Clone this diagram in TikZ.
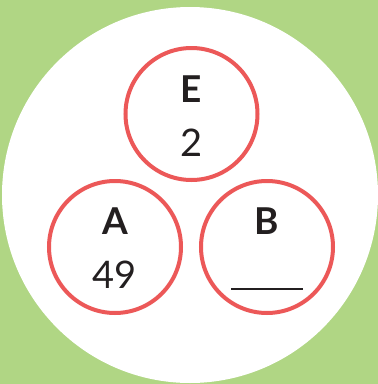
\documentclass[tikz,border=0pt]{standalone}
\usepackage{fontspec}
\setsansfont{Lato}
\usetikzlibrary{positioning}
\definecolor{leaf}{RGB}{176,214,132}
\definecolor{ring}{RGB}{236,88,88}
\definecolor{ink}{RGB}{35,31,32}

\begin{document}
\begin{tikzpicture}[x=1pt, y=-1pt,
  setring/.style={circle, draw=ring, line width=4pt, minimum size=132pt, inner sep=0pt},
  letter/.style={inner sep=0pt, text=ink, font=\fontsize{37}{40}\selectfont\sffamily\bfseries},
  count/.style={inner sep=0pt, text=ink, font=\fontsize{38}{42}\selectfont\sffamily}
]
  \useasboundingbox (0,0) rectangle (378,384);
  \fill[leaf] (0,0) rectangle (378,384);
  \fill[white] (190,195) circle (188);

  \node[setring] (e) at (191.5,114) {};
  \node[setring] (a) at (115,247) {};
  \node[setring] (b) at (267,247) {};

  \node[letter] (eL) at ([yshift=24.5pt]e.center) {E};
  \node[count] (eN) at ([yshift=-29pt]e.center) {2};
  \node[letter] (aL) at ([yshift=25.5pt]a.center) {A};
  \node[count] (aN) at ([yshift=-28pt]a.center) {49};
  \node[letter] (bL) at ([yshift=25.5pt]b.center) {B};

  \coordinate (blankL) at ([xshift=-36pt,yshift=-42pt]b.center);
  \coordinate (blankR) at ([xshift=36pt,yshift=-42pt]b.center);
  \draw[ink, line width=1.6pt] (blankL) -- (blankR);
\end{tikzpicture}
\end{document}
